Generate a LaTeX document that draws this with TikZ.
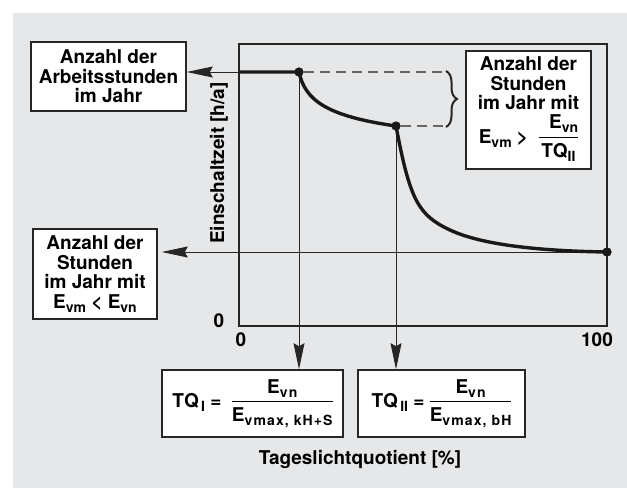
\documentclass[tikz,border=0pt]{standalone}
\usepackage{fontspec}
\setmainfont{TeX Gyre Heros}
\usepackage{tikz}
\usetikzlibrary{arrows.meta,decorations.pathreplacing}
\definecolor{hgrund}{HTML}{E6E7E9}
\setlength\arrayrulewidth{1.5pt}
\newcommand\lo[1]{\raisebox{-4pt}{\fontsize{14}{14}\selectfont #1}}
\newcommand\qfrac[2]{\begin{tabular}[c]{@{}c@{}}#1\\[2pt]\hline\rule{0pt}{19pt}#2\end{tabular}}

\tikzset{
	txtbox/.style={draw=black!85, line width=1.6pt, fill=white, align=center, inner sep=0pt},
	pfeil/.style={draw=black!85, line width=0.9pt, -{Stealth[length=26pt,width=11pt,inset=3pt]}},
	dot/.style={circle, fill=black!90, inner sep=0pt, minimum size=9pt},
	kurve/.style={line width=3.4pt, black!90},
	strich/.style={dash pattern=on 10pt off 6pt, line width=1.2pt, black!60},
}

\begin{document}
\begin{tikzpicture}[x=1pt, y=-1pt, font=\fontsize{19}{19.5}\selectfont\bfseries]
			%%%%% START %%%%%
			\useasboundingbox (0,0) rectangle (627,488);
			\fill[hgrund] (13,13) rectangle (627,488);
			
			% Diagrammrahmen
			\draw[line width=1.8pt, black!85] (239,44) rectangle (607,326);
			
			\node[dot] (p1) at (299,72) {};
			\node[dot] (p2) at (396,126) {};
			\node[dot] (p3) at (607,252) {};
			\coordinate (s) at (239,72);
			
			% Kaesten
			\node[txtbox, minimum width=155pt, minimum height=69pt] (boxA) at (108.5,76.5)
				{Anzahl der\\Arbeitsstunden\\im Jahr};
			\node[txtbox, minimum width=125pt, minimum height=118pt] (boxB) at (528.5,110)
				{Anzahl der\\Stunden\\im Jahr mit\\[4pt]E\lo{vm} > \ \qfrac{\ \ E\lo{vn}}{TQ\lo{II}}};
			\node[txtbox, minimum width=124pt, minimum height=90pt] (boxC) at (95,274)
				{Anzahl der\\Stunden\\im Jahr mit\\E\lo{vm} < E\lo{vn}};
			\node[txtbox, minimum width=181pt, minimum height=67pt] (tq1) at (252.5,403.5)
				{TQ\lo{\,I} = \ \qfrac{E\lo{\addfontfeature{LetterSpace=8}vn}}{E\lo{\addfontfeature{LetterSpace=8}vmax, kH+S}}};
			\node[txtbox, minimum width=167pt, minimum height=67pt] (tq2) at (441.5,403.5)
				{TQ\lo{\,II} = \qfrac{E\lo{\addfontfeature{LetterSpace=8}vn}}{E\lo{\addfontfeature{LetterSpace=8}vmax, bH}}};
			
			% Achsen
			\node (y0) at (219,321) {0};
			\node (x0) at (241,340) {0};
			\node (x100) at (597,340) {100};
			\node[rotate=90] (ylab) at (219,163) {Einschaltzeit [h/a]};
			\node (xlab) at (360,459) {Tageslichtquotient [\%]};
			
			% Pfeile
			\draw[pfeil] (p1) -- (p1 -| boxA.east);
			\draw[pfeil, shorten >=4pt] (p3) -- (p3 -| boxC.east);
			\draw[pfeil] (p1) -- (p1 |- tq1.north);
			\draw[pfeil] (p2) -- (p2 |- tq2.north);
			
			% gestrichelt + Klammer
			\draw[strich] (p1) -- (443,72);
			\draw[strich] (p2) -- (443,126);
			\draw[decorate, decoration={brace, amplitude=11pt}, line width=2pt, black!85] (446,71) -- (446,127);
			
			% Kurve
			\draw[kurve] (s) -- (p1.center)
				.. controls (305,100) and (326,116) .. (p2.center)
				.. controls (410,200) and (418,215) .. (450,230)
				.. controls (482,245) and (540,251) .. (p3.center);
			
			\node[dot] at (p1) {};
			\node[dot] at (p2) {};
			\node[dot] at (p3) {};
			%%%%% END %%%%%
\end{tikzpicture}
\end{document}
